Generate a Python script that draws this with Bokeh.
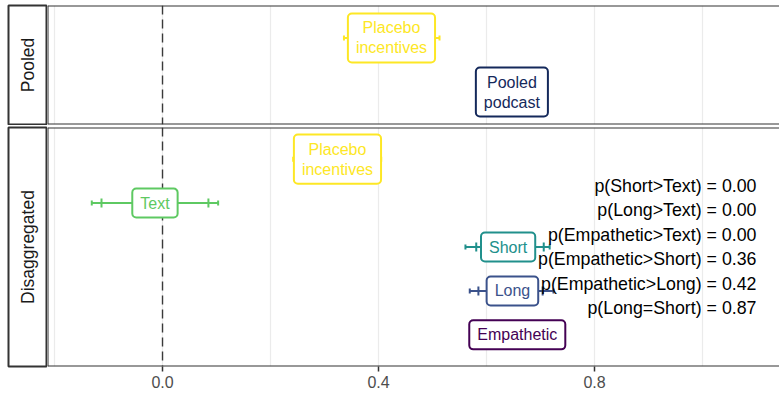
import math
from bokeh.plotting import figure
from bokeh.layouts import row, column
from bokeh.models import Range1d, FixedTicker, Span, ColumnDataSource, PrintfTickFormatter
from bokeh.core.properties import value
from bokeh.embed import file_html
from bokeh.resources import INLINE

FONT = "Liberation Sans"
BORDER = "#333333"

# ---- data -------------------------------------------------------------
pooled_labels = ["Placebo\nincentives", "Pooled\npodcast"]
pooled_est = [0.424, 0.647]
pooled_lo95 = [0.336, 0.600]
pooled_hi95 = [0.513, 0.695]
pooled_lo90 = [0.352, 0.612]
pooled_hi90 = [0.497, 0.683]
pooled_colors = ["#FDE725", "#14295B"]

arm_labels = ["Placebo\nincentives", "Text", "Short", "Long", "Empathetic"]
arm_est = [0.324, -0.014, 0.640, 0.648, 0.657]
arm_lo95 = [0.242, -0.131, 0.561, 0.569, 0.585]
arm_hi95 = [0.405, 0.103, 0.717, 0.724, 0.730]
arm_lo90 = [0.256, -0.113, 0.581, 0.585, 0.600]
arm_hi90 = [0.392, 0.085, 0.706, 0.704, 0.715]
arm_colors = ["#FDE725", "#5EC962", "#21908C", "#3B528B", "#440154"]

contrast_lines = [
    "p(Short>Text) = 0.00",
    "p(Long>Text) = 0.00",
    "p(Empathetic>Text) = 0.00",
    "p(Empathetic>Short) = 0.36",
    "p(Empathetic>Long) = 0.42",
    "p(Long=Short) = 0.87",
]
contrast_x = 1.1
contrast_arm = "Short"

panel_names = ["Pooled", "Disaggregated"]
x_ticks = [0.0, 0.4, 0.8]
x_grid = [-0.2, 0.0, 0.2, 0.4, 0.6, 0.8, 1.0]

# ---- layout -----------------------------------------------------------
x_range = Range1d(-0.213, 1.1426)


def make_strip(name, height, top, bottom):
    s = figure(width=47, height=height, x_range=Range1d(0, 1), y_range=Range1d(0, 1),
               output_backend="svg", toolbar_location=None,
               min_border_left=8, min_border_right=0,
               min_border_top=top, min_border_bottom=bottom)
    s.axis.visible = False
    s.grid.visible = False
    s.outline_line_color = BORDER
    s.outline_line_width = 2
    s.text(x=[0.5], y=[0.5], text=[name], angle=math.pi / 2,
           text_align="center", text_baseline="middle",
           text_font=value(FONT), text_font_size="17.5px", text_color="#1a1a1a")
    return s


def make_panel(labels, est, lo95, hi95, lo90, hi90, colors, y_pad, height, top, bottom, axis):
    n = len(labels)
    pos = list(range(n, 0, -1))
    p = figure(width=732, height=height, x_range=x_range,
               y_range=Range1d(1 - y_pad, n + y_pad),
               output_backend="svg", toolbar_location=None,
               min_border_left=0, min_border_right=0,
               min_border_top=top, min_border_bottom=bottom)
    p.outline_line_color = None
    p.yaxis.visible = False
    p.ygrid.visible = False
    p.xgrid.ticker = FixedTicker(ticks=x_grid)
    p.xgrid.grid_line_color = "#ebebeb"
    p.xgrid.grid_line_width = 1.2
    if axis:
        xa = p.xaxis[0]
        xa.ticker = FixedTicker(ticks=x_ticks)
        xa.formatter = PrintfTickFormatter(format="%.1f")
        xa.axis_line_color = None
        xa.major_tick_line_color = BORDER
        xa.major_tick_line_width = 1.5
        xa.major_tick_out = 5
        xa.major_tick_in = 0
        xa.minor_tick_line_color = None
        xa.major_label_standoff = 4
        xa.major_label_text_font = FONT
        xa.major_label_text_font_size = "16px"
        xa.major_label_text_color = "#4d4d4d"
    else:
        p.xaxis.visible = False

    zero = Span(location=0, dimension="height", line_color="#3a3a3a",
                line_width=1.4, line_dash="9 5", level="underlay")
    p.add_layout(zero)

    src = ColumnDataSource(dict(y=pos, est=est, lo95=lo95, hi95=hi95,
                                lo90=lo90, hi90=hi90, label=labels, color=colors))
    p.segment(x0="lo95", y0="y", x1="hi95", y1="y", line_color="color",
              line_width=2, source=src)
    for col in ("lo95", "hi95"):
        p.scatter(x=col, y="y", marker="dash", angle=math.pi / 2, size=5,
                  line_color="color", line_width=2, source=src)
    for col in ("lo90", "hi90"):
        p.scatter(x=col, y="y", marker="dash", angle=math.pi / 2, size=9,
                  line_color="color", line_width=2, source=src)
    # padding given as (left, right, top, bottom)
    p.text(x="est", y="y", text="label", text_color="color",
           text_align="center", text_baseline="middle",
           text_font=value(FONT), text_font_size="16px", text_line_height=1.18,
           background_fill_color="white", border_line_color="color",
           border_line_width=2, border_radius=4, padding=(8, 8, 6, 6),
           source=src)

    for loc in (p.y_range.start, p.y_range.end):
        p.add_layout(Span(location=loc, dimension="width", line_color=BORDER,
                          line_width=2))
    p.add_layout(Span(location=x_range.start, dimension="height",
                      line_color=BORDER, line_width=2))
    return p, pos


p1, _ = make_panel(pooled_labels, pooled_est, pooled_lo95, pooled_hi95,
                   pooled_lo90, pooled_hi90, pooled_colors, 0.6, 125, 5, 1, False)
p2, pos2 = make_panel(arm_labels, arm_est, arm_lo95, arm_hi95,
                      arm_lo90, arm_hi90, arm_colors, 0.72, 271, 2, 30, True)

p2.text(x=[contrast_x], y=[pos2[arm_labels.index(contrast_arm)]],
        text=["\n".join(contrast_lines)], text_align="right", text_baseline="middle",
        text_font=value(FONT), text_font_size="17.8px", text_line_height=1.22,
        text_color="black")

s1 = make_strip(panel_names[0], 125, 5, 1)
s2 = make_strip(panel_names[1], 271, 2, 30)

layout = column(row(s1, p1), row(s2, p2))

open("out.html", "w").write(file_html(layout, INLINE))
